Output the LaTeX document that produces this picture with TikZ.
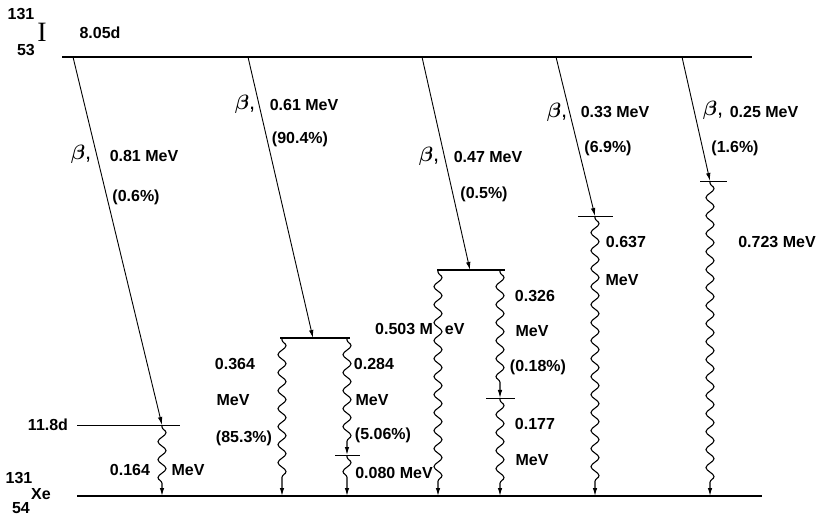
\documentclass[tikz,border=0pt]{standalone}
\usepackage{fontspec}
\setmainfont{Liberation Sans}
\newfontfamily\elfont{Liberation Serif}
\usetikzlibrary{decorations.pathmorphing,arrows.meta}

\begin{document}
\begin{tikzpicture}[
    x=1pt, y=-1pt,
    every node/.style={
        font=\fontsize{16}{18}\selectfont\bfseries,
        inner sep=1pt
    },
    level/.style={line width=1.4pt},
    tick/.style={line width=0.8pt},
    beta/.style={-{Latex[length=8pt,width=4.5pt]}, line width=0.9pt},
    gamma/.style={-{Latex[length=8pt,width=4.5pt]}, line width=1.1pt,
        decorate, decoration={snake, segment length=18pt, amplitude=4pt,
        pre length=2pt, post length=12pt}},
    blabel/.style={font=\fontsize{22}{22}\selectfont\boldmath},
    >=latex
]
\useasboundingbox (0,0) rectangle (822,518);

% Nuclides
\node (i_a) at (21,14) {131};
\node (i_z) at (26,50) {53};
\node (i_el) at (42,32) {\elfont\mdseries\fontsize{28}{28}\selectfont I};
\node (i_hl) at (100,33) {8.05d};

\node (xe_a) at (19,478) {131};
\node (xe_z) at (21,508) {54};
\node (xe_el) at (41,494) {Xe};
\node (xe_hl) at (48,425) {11.8d};

% Levels
\coordinate (top_l) at (62,57);
\coordinate (top_r) at (752,57);
\coordinate (gnd_l) at (77,496);
\coordinate (gnd_r) at (762,496);
\draw[level] (top_l) -- (top_r);
\draw[level] (gnd_l) -- (gnd_r);

\coordinate (l164_l) at (77,425);
\coordinate (l164_r) at (180,425);
\coordinate (l364_l) at (280,338);
\coordinate (l364_r) at (350,338);
\coordinate (l080_l) at (335,455);
\coordinate (l080_r) at (360,455);
\coordinate (l503_l) at (437,270);
\coordinate (l503_r) at (505,270);
\coordinate (l177_l) at (486,398);
\coordinate (l177_r) at (515,398);
\coordinate (l637_l) at (578,216);
\coordinate (l637_r) at (613,216);
\coordinate (l723_l) at (700,181);
\coordinate (l723_r) at (727,181);

\draw[tick] (l164_l) -- (l164_r);
\draw[level] (l364_l) -- (l364_r);
\draw[tick] (l080_l) -- (l080_r);
\draw[level] (l503_l) -- (l503_r);
\draw[tick] (l177_l) -- (l177_r);
\draw[tick] (l637_l) -- (l637_r);
\draw[tick] (l723_l) -- (l723_r);

% Beta branches
\coordinate (b1_s) at (73,57);
\coordinate (b1_e) at (162,425);
\coordinate (b2_s) at (248,57);
\coordinate (b2_e) at (313,338);
\coordinate (b3_s) at (422,57);
\coordinate (b3_e) at (470,270);
\coordinate (b4_s) at (556,57);
\coordinate (b4_e) at (595,216);
\coordinate (b5_s) at (682,57);
\coordinate (b5_e) at (710,181);

\draw[beta] (b1_s) -- (b1_e);
\draw[beta] (b2_s) -- (b2_e);
\draw[beta] (b3_s) -- (b3_e);
\draw[beta] (b4_s) -- (b4_e);
\draw[beta] (b5_s) -- (b5_e);

\node[blabel] (b1_sym) at (81,154) {$\beta$,};
\node (b1_en) at (144,156) {0.81 MeV};
\node (b1_pc) at (136,197) {(0.6\%)};

\node[blabel] (b2_sym) at (245,104) {$\beta$,};
\node (b2_en) at (304,105) {0.61 MeV};
\node (b2_pc) at (300,139) {(90.4\%)};

\node[blabel] (b3_sym) at (429,156) {$\beta$,};
\node (b3_en) at (488,157) {0.47 MeV};
\node (b3_pc) at (484,194) {(0.5\%)};

\node[blabel] (b4_sym) at (557,112) {$\beta$,};
\node (b4_en) at (615,112) {0.33 MeV};
\node (b4_pc) at (608,148) {(6.9\%)};

\node[blabel] (b5_sym) at (713,110) {$\beta$,};
\node (b5_en) at (764,112) {0.25 MeV};
\node (b5_pc) at (735,148) {(1.6\%)};

% Gamma transitions
\coordinate (g164_s) at (162,425);
\coordinate (g164_e) at (162,496);
\coordinate (g364_s) at (282,338);
\coordinate (g364_e) at (282,496);
\coordinate (g284_s) at (347,338);
\coordinate (g284_e) at (347,455);
\coordinate (g080_s) at (347,455);
\coordinate (g080_e) at (347,496);
\coordinate (g503_s) at (438,270);
\coordinate (g503_e) at (438,496);
\coordinate (g326_s) at (500,270);
\coordinate (g326_e) at (500,398);
\coordinate (g177_s) at (500,398);
\coordinate (g177_e) at (500,496);
\coordinate (g637_s) at (595,216);
\coordinate (g637_e) at (595,496);
\coordinate (g723_s) at (710,181);
\coordinate (g723_e) at (710,496);

\draw[gamma] (g164_s) -- (g164_e);
\draw[gamma] (g364_s) -- (g364_e);
\draw[gamma] (g284_s) -- (g284_e);
\draw[gamma, decoration={post length=10pt}] (g080_s) -- (g080_e);
\draw[gamma] (g503_s) -- (g503_e);
\draw[gamma] (g326_s) -- (g326_e);
\draw[gamma] (g177_s) -- (g177_e);
\draw[gamma] (g637_s) -- (g637_e);
\draw[gamma] (g723_s) -- (g723_e);

\node (g164_en) at (130,470) {0.164};
\node (g164_un) at (188,470) {MeV};

\node (g364_en) at (235,364) {0.364};
\node (g364_un) at (233,400) {MeV};
\node (g364_pc) at (244,438) {(85.3\%)};

\node (g284_en) at (374,364) {0.284};
\node (g284_un) at (372,400) {MeV};
\node (g284_pc) at (383,435) {(5.06\%)};

\node (g080_en) at (394,473) {0.080 MeV};

\node[anchor=west] (g503_en) at (374,329) {0.503 M\hspace{12pt}eV};

\node (g326_en) at (535,296) {0.326};
\node (g326_un) at (532,331) {MeV};
\node (g326_pc) at (538,367) {(0.18\%)};

\node (g177_en) at (535,424) {0.177};
\node (g177_un) at (532,460) {MeV};

\node (g637_en) at (626,242) {0.637};
\node (g637_un) at (622,280) {MeV};

\node (g723_en) at (777,242) {0.723 MeV};

\end{tikzpicture}
\end{document}
